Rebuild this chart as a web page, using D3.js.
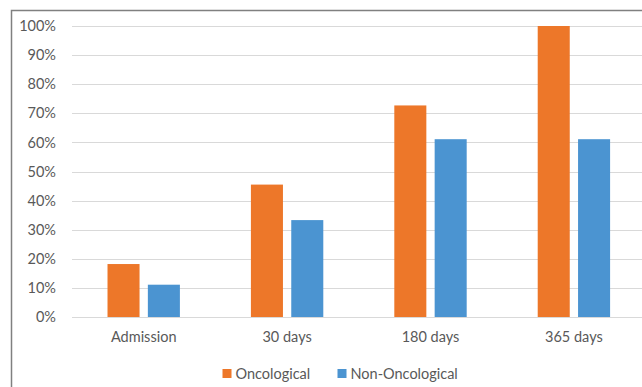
<!DOCTYPE html>
<html>
<head>
<meta charset="utf-8">
<script src="https://cdn.jsdelivr.net/npm/d3@7"></script>
<style>
  html, body { margin: 0; padding: 0; background: #fff; overflow: hidden; }
  svg { display: block; font-family: Lato, "Open Sans", sans-serif; }
</style>
</head>
<body>
<svg id="chart" width="642" height="387"></svg>
<script>
// Share of patients at each follow-up point
const categories = ["Admission", "30 days", "180 days", "365 days"];
const seriesNames = ["Oncological", "Non-Oncological"];
const oncological = [18.2, 45.5, 72.7, 100];
const nonOncological = [11.1, 33.3, 61.1, 61.1];
const yTicks = [0, 10, 20, 30, 40, 50, 60, 70, 80, 90, 100];
const colors = ["#ED7729", "#4B94D1"];

const svg = d3.select("#chart");
const W = 642, H = 387;
const plot = { left: 72, right: 645.6, top: 26, bottom: 317 };
const fontSize = 14.5;

// outer frame (runs past the right and bottom edges)
svg.append("rect")
  .attr("x", 11.5).attr("y", 10.5)
  .attr("width", 700).attr("height", 500)
  .attr("fill", "none").attr("stroke", "#808080").attr("stroke-width", 1.5);

const x = d3.scaleBand().domain(categories).range([plot.left, plot.right]);
const y = d3.scaleLinear().domain([0, 100]).range([plot.bottom, plot.top]);
const x1 = d3.scaleBand().domain(seriesNames)
  .range([0, x.bandwidth()]).paddingOuter(0.88).paddingInner(0.206);

// gridlines
svg.append("g").selectAll("line").data(yTicks).join("line")
  .attr("x1", plot.left).attr("x2", W)
  .attr("y1", d => Math.round(y(d)) + 0.5).attr("y2", d => Math.round(y(d)) + 0.5)
  .attr("stroke", "#d9d9d9").attr("stroke-width", 1);

// y axis labels
const yAxis = d3.axisLeft(y).tickValues(yTicks).tickFormat(d => d + "%").tickSize(0).tickPadding(16);
svg.append("g").attr("transform", `translate(${plot.left},0)`).call(yAxis)
  .call(g => g.select(".domain").remove())
  .selectAll("text").attr("fill", "#595959").attr("font-size", fontSize)
  .attr("font-family", "Lato, 'Open Sans', sans-serif");

// x axis labels
const xAxis = d3.axisBottom(x).tickSize(0).tickPadding(15);
svg.append("g").attr("transform", `translate(0,${y(0)})`).call(xAxis)
  .call(g => g.select(".domain").remove())
  .selectAll("text").attr("fill", "#595959").attr("font-size", fontSize)
  .attr("font-family", "Lato, 'Open Sans', sans-serif");

// bars
const rows = categories.map((c, i) => ({ cat: c, vals: [oncological[i], nonOncological[i]] }));
const groups = svg.append("g").selectAll("g").data(rows).join("g")
  .attr("transform", d => `translate(${x(d.cat)},0)`);
groups.selectAll("rect").data(d => d.vals.map((v, j) => ({ v, s: seriesNames[j], j })))
  .join("rect")
  .attr("x", d => x1(d.s))
  .attr("width", x1.bandwidth())
  .attr("y", d => y(d.v))
  .attr("height", d => y(0) - y(d.v))
  .attr("fill", d => colors[d.j]);

// legend
const legend = svg.append("g").attr("transform", "translate(222.5,374)");
const lx = [0, 115];
seriesNames.forEach((n, j) => {
  const g = legend.append("g").attr("transform", `translate(${lx[j]},0)`);
  g.append("rect").attr("x", 0).attr("y", -5).attr("width", 9).attr("height", 9).attr("fill", colors[j]);
  g.append("text").attr("x", 13).attr("y", 0).attr("dy", "0.35em")
    .attr("font-size", fontSize).attr("fill", "#595959").text(n);
});
</script>
</body>
</html>
